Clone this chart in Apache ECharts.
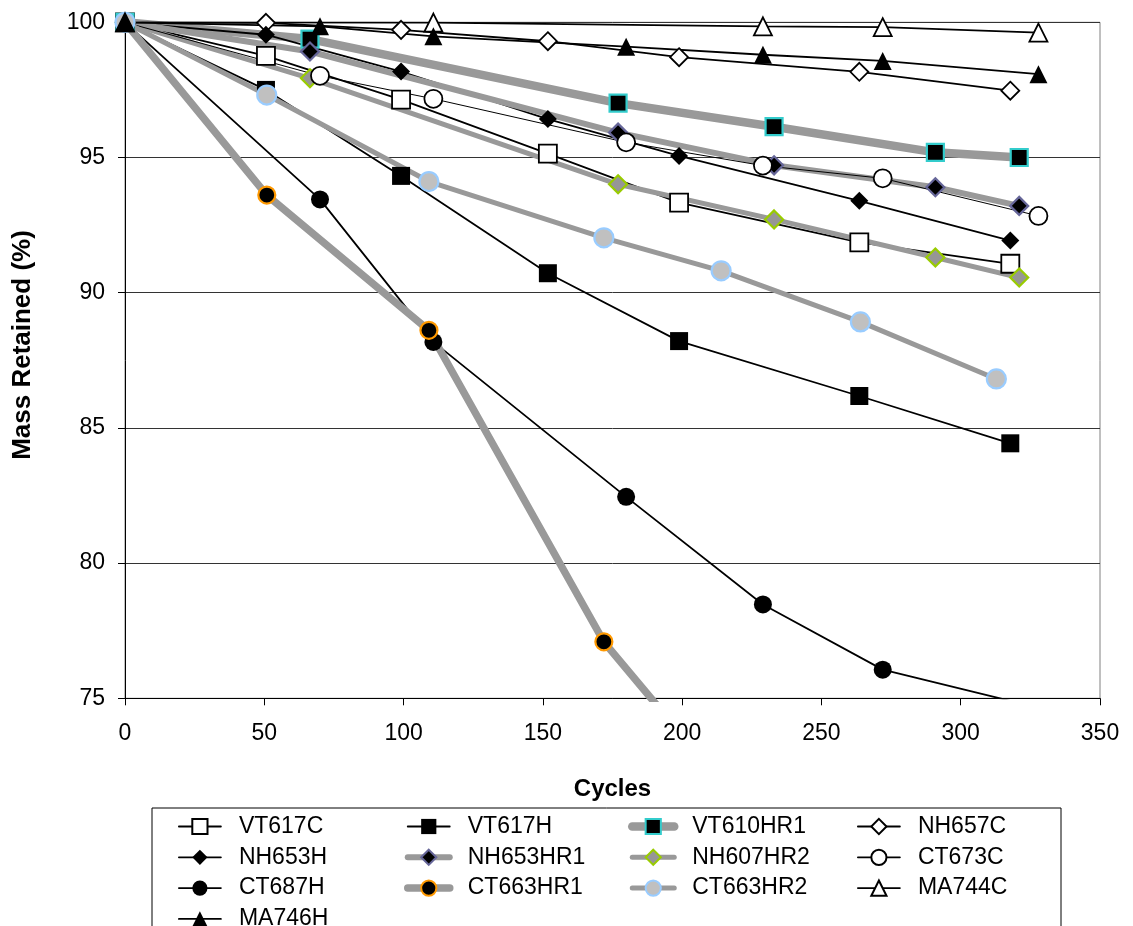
<!DOCTYPE html>
<html>
<head>
<meta charset="utf-8">
<script src="https://cdn.jsdelivr.net/npm/echarts@6/dist/echarts.min.js"></script>
<style>
html,body{margin:0;padding:0;background:#fff;}
#chart{width:1133px;height:926px;}
</style>
</head>
<body>
<div id="chart"></div>
<script>
// ---- data ----
const xTicks = [0, 50, 100, 150, 200, 250, 300, 350];
const yTicks = [75, 80, 85, 90, 95, 100];

const cyclesVTNH = [0, 50.6, 99.1, 151.8, 198.9, 263.6, 317.8];
const cyclesHR = [0, 66.4, 177.0, 233.0, 290.9, 321.0];
const cyclesCTMA = [0, 70.0, 110.7, 179.9, 229.0, 272.0, 327.9];
const cyclesCT663HR2 = [0, 50.9, 109.1, 171.9, 214.0, 264.0, 312.8];
const cyclesCT663HR1 = [0, 50.9, 109.1, 171.9, 214.0];
const cyclesMA744C = [0, 110.7, 229.0, 272.0, 327.9];

const VT617C = [100, 98.76, 97.14, 95.14, 93.33, 91.86, 91.07];
const VT617H = [100, 97.50, 94.32, 90.72, 88.21, 86.18, 84.43];
const VT610HR1 = [100, 99.38, 97.01, 96.14, 95.19, 95.00];
const NH657C = [100, 99.98, 99.72, 99.30, 98.71, 98.17, 97.47];
const NH653H = [100, 99.54, 98.18, 96.42, 95.06, 93.40, 91.93];
const NH653HR1 = [100, 98.92, 95.92, 94.71, 93.90, 93.21];
const NH607HR2 = [100, 97.93, 94.01, 92.71, 91.30, 90.56];
const CT673C = [100, 98.02, 97.17, 95.56, 94.70, 94.23, 92.84];
const CT687H = [100, 93.45, 88.18, 82.45, 78.47, 76.06, 74.65];
const CT663HR1 = [100, 93.61, 88.61, 77.09, 71.90];
const CT663HR2 = [100, 97.31, 94.11, 92.03, 90.81, 88.92, 86.81];
const MA744C = [100, 99.99, 99.85, 99.82, 99.62];
const MA746H = [100, 99.85, 99.48, 99.10, 98.80, 98.57, 98.08];

const legendCols = [
  ['VT617C', 'NH653H', 'CT687H', 'MA746H'],
  ['VT617H', 'NH653HR1', 'CT663HR1'],
  ['VT610HR1', 'NH607HR2', 'CT663HR2'],
  ['NH657C', 'CT673C', 'MA744C']
];

// ---- styles ----
const FONT = '"Liberation Sans", Arial, sans-serif';
const GRAY = '#999999';
function pairs(xs, ys) { return xs.map((x, i) => [x, ys[i]]); }

const legendLineWidth = {};

function blackSeries(name, xs, ys, symbol, filled, lw) {
  legendLineWidth[name] = lw || 1.8;
  return {
    name, type: 'line', data: pairs(xs, ys),
    symbol, symbolSize: 18, showSymbol: true,
    lineStyle: { color: '#000', width: lw || 1.8 },
    itemStyle: { color: filled ? '#000' : '#fff', borderColor: '#000', borderWidth: filled ? 0 : 1.8 },
    emphasis: { disabled: true }
  };
}
function graySeries(name, xs, ys, symbol, fill, border, lw, size) {
  legendLineWidth[name] = lw;
  return {
    name, type: 'line', data: pairs(xs, ys),
    symbol, symbolSize: size, showSymbol: true,
    lineStyle: { color: GRAY, width: lw, cap: 'round', join: 'round' },
    itemStyle: { color: fill, borderColor: border, borderWidth: 2.2 },
    emphasis: { disabled: true }
  };
}

const series = [
  blackSeries('VT617C', cyclesVTNH, VT617C, 'rect', false),
  blackSeries('VT617H', cyclesVTNH, VT617H, 'rect', true),
  graySeries('VT610HR1', cyclesHR, VT610HR1, 'rect', '#000', '#33CCCC', 8.5, 17),
  blackSeries('NH657C', cyclesVTNH, NH657C, 'diamond', false),
  blackSeries('NH653H', cyclesVTNH, NH653H, 'diamond', true),
  graySeries('NH653HR1', cyclesHR, NH653HR1, 'diamond', '#000', '#666699', 6, 18),
  graySeries('NH607HR2', cyclesHR, NH607HR2, 'diamond', '#969696', '#99CC00', 5, 18),
  blackSeries('CT673C', cyclesCTMA, CT673C, 'circle', false, 1),
  blackSeries('CT687H', cyclesCTMA, CT687H, 'circle', true),
  graySeries('CT663HR1', cyclesCT663HR1, CT663HR1, 'circle', '#000', '#FF9900', 7.5, 17),
  graySeries('CT663HR2', cyclesCT663HR2, CT663HR2, 'circle', '#C0C0C0', '#99CCFF', 5, 19),
  blackSeries('MA744C', cyclesMA744C, MA744C, 'triangle', false),
  blackSeries('MA746H', cyclesCTMA, MA746H, 'triangle', true)
];

const legendLefts = [178, 404, 628, 857];
const legends = legendCols.map((names, i) => ({
  data: names.map(n => ({ name: n, lineStyle: { width: Math.max(legendLineWidth[n], 1.8), cap: 'round' } })),
  orient: 'vertical', left: legendLefts[i], top: 815, height: 200, padding: 0,
  itemWidth: 42, itemHeight: 19, itemGap: 7.8,
  selectedMode: false,
  textStyle: { color: '#000', fontFamily: FONT, fontSize: 23, padding: [0, 0, 0, 13] }
}));

const chart = echarts.init(document.getElementById('chart'), null, { renderer: 'canvas' });
chart.setOption({
  animation: false,
  backgroundColor: '#fff',
  textStyle: { fontFamily: FONT },
  grid: { left: 125, right: 33, top: 22.3, bottom: 227.7, show: true, borderColor: '#808080', borderWidth: 1, backgroundColor: 'transparent' },
  xAxis: {
    type: 'value', min: xTicks[0], max: xTicks[xTicks.length - 1], interval: xTicks[1] - xTicks[0],
    name: 'Cycles', nameLocation: 'middle', nameGap: 91,
    nameTextStyle: { fontFamily: FONT, fontSize: 24, fontWeight: 'bold', color: '#000', verticalAlign: 'middle' },
    axisLine: { show: true, onZero: false, lineStyle: { color: '#000', width: 1 } },
    axisTick: { show: true, inside: false, length: 7, lineStyle: { color: '#000' } },
    axisLabel: { fontFamily: FONT, fontSize: 23, color: '#000', margin: 24 },
    splitLine: { show: false }
  },
  yAxis: {
    type: 'value', min: yTicks[0], max: yTicks[yTicks.length - 1], interval: yTicks[1] - yTicks[0],
    axisLine: { show: true, lineStyle: { color: '#000', width: 1 } },
    axisTick: { show: true, inside: false, length: 7, lineStyle: { color: '#000' } },
    axisLabel: { fontFamily: FONT, fontSize: 23, color: '#000', margin: 20 },
    splitLine: { show: true, lineStyle: { color: '#333', width: 1 } }
  },
  legend: legends,
  graphic: [
    { type: 'rect', shape: { x: 152, y: 808, width: 909, height: 140 }, style: { fill: 'none', stroke: '#000', lineWidth: 1 }, z: -1, silent: true },
    { type: 'text', x: 23, y: 345, rotation: Math.PI / 2, silent: true,
      style: { text: 'Mass Retained (%)', font: 'bold 26px ' + FONT, fill: '#000', align: 'center', verticalAlign: 'middle' } }
  ],
  series
});
</script>
</body>
</html>
